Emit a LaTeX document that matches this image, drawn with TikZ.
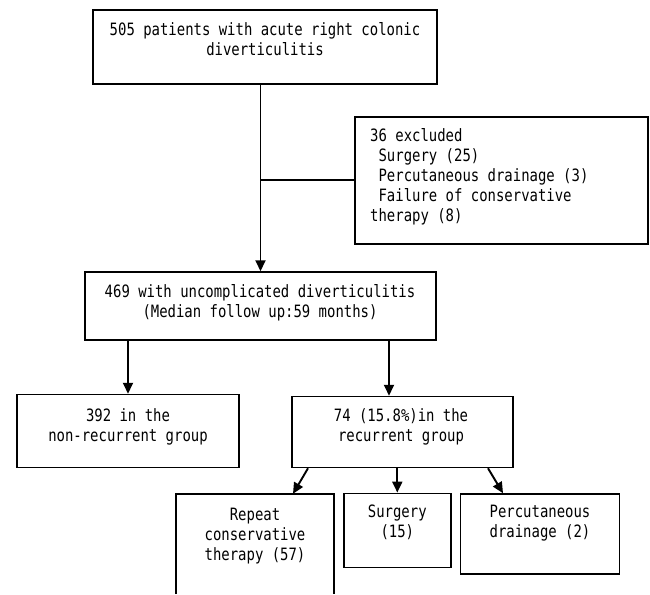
\documentclass[tikz,border=0pt]{standalone}
\usepackage{fontspec}
\newfontfamily\flowfont[FakeStretch=0.82]{DejaVu Sans Mono}
\usetikzlibrary{arrows.meta}
\tikzset{
  box/.style={draw, line width=1.5pt, inner sep=0pt, rectangle},
  frame/.style={inner sep=0pt, rectangle},
  txt/.style={font=\flowfont\fontsize{17}{20}\selectfont, inner sep=0pt, anchor=base, align=center},
  txtl/.style={txt, align=left, anchor=base west},
  arr/.style={line width=1.9pt, -{Triangle[length=11pt,width=10pt]}},
  ln/.style={line width=1.6pt}
}
\begin{document}
\begin{tikzpicture}[x=1pt,y=-1pt]
\useasboundingbox (0,0) rectangle (650,594);
% boxes
\node[box, minimum width=344, minimum height=74] (b1) at (265,47) {};
\node[box, minimum width=293, minimum height=127] (ex) at (501.5,180.5) {};
\node[box, minimum width=351, minimum height=68] (b2) at (260.5,306) {};
\node[box, minimum width=222, minimum height=73] (n1) at (128,431) {};
\node[box, minimum width=221, minimum height=71] (n2) at (402.5,432) {};
\node[frame, minimum width=158, minimum height=100] (rp) at (255,544) {};
\draw[line width=1.5pt] (rp.south west) -- (rp.north west) -- (rp.north east) -- (rp.south east);
\node[box, minimum width=107, minimum height=74] (sg) at (397.3,530.3) {};
\node[box, minimum width=159, minimum height=80] (pd) at (540,534) {};
% texts (anchor = baseline of last line)
\node[txt] (t1) at (265,55.5) {505 patients with acute right colonic\\diverticulitis};
\node[txtl] (tex) at (370,221) {36 excluded\\~Surgery (25)\\~Percutaneous drainage (3)\\~Failure of conservative\\therapy (8)};
\node[txt] (t2) at (260,317) {469 with uncomplicated diverticulitis\\(Median follow up:59 months)};
\node[txt] (tn1) at (128,441) {392 in the\\non-recurrent group};
\node[txt] (tn2) at (401,441) {74 (15.8\%)in the\\recurrent group};
\node[txt] (trp) at (255,560.5) {Repeat\\conservative\\therapy (57)};
\node[txt] (tsg) at (397.3,537) {Surgery\\(15)};
\node[txt] (tpd) at (540,537) {Percutaneous\\drainage (2)};
% connectors
\draw[arr] (b2.north |- b1.south) -- (b2.north);
\coordinate (j) at (260,180);
\draw[ln] (j) -- (j -| ex.west);
\draw[arr] (n1.north |- b2.south) -- (n1.north);
\draw[arr] ([xshift=-13.5]n2.north |- b2.south) -- ([xshift=-13.5]n2.north);
\draw[arr] ([xshift=-94.5]n2.south) -- ([xshift=38]rp.north);
\draw[arr] ([xshift=-5.2]n2.south) -- (sg.north);
\draw[arr] ([xshift=85.5]n2.south) -- ([xshift=-37]pd.north);
\end{tikzpicture}
\end{document}
